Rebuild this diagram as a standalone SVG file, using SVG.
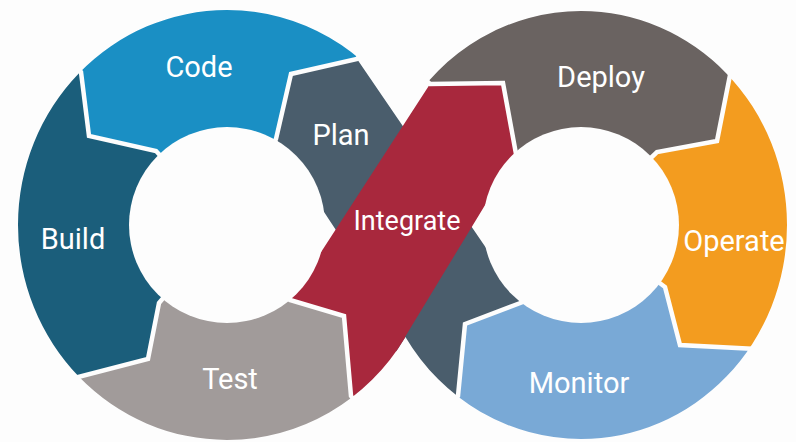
<svg xmlns="http://www.w3.org/2000/svg" width="796" height="442" viewBox="0 0 796 442">
<defs>
<clipPath id="ring"><ellipse cx="227" cy="225" rx="209" ry="215"/><ellipse cx="581" cy="225" rx="206" ry="214"/></clipPath>
<style>
.lbl{font-family:Roboto,"Liberation Sans",sans-serif;font-size:29px;fill:#ffffff;text-anchor:middle}
.seg{clip-path:url(#ring)}
.gap{fill:none;stroke:#fdfdfd;stroke-width:4.5;stroke-linejoin:miter}
.hole{fill:#fdfdfd}
</style>
</defs>
<rect width="796" height="442" fill="#fdfdfd"/>
<g id="segments">
<g id="code"><path class="seg" fill="#1a8fc4" d="M227,225 L156,151 L89,136 L81,72 L61,50 L227,-60 L377,37 L357,59 L291,74 L276,139 Z"/><text class="lbl" x="199" y="77">Code</text></g>
<g id="build"><path class="seg" fill="#1b5e7b" d="M227,225 L159,303 L148,359 L78,377 L57,398 L-60,225 L61,50 L81,72 L89,136 L156,151 Z"/><text class="lbl" x="73" y="249">Build</text></g>
<g id="test"><path class="seg" fill="#a19b9a" d="M227,225 L290,300 L344,316 L351,396 L370,420 L227,520 L57,398 L78,377 L148,359 L159,303 Z"/><text class="lbl" x="230" y="389">Test</text></g>
<g id="plan"><path class="seg" fill="#4a5d6c" d="M276,139 L291,74 L357,59 L523,302 L465,324 L458,396 L440,420 L395,350 L405,335 Z"/><text class="lbl" x="341" y="145">Plan</text></g>
<g id="integrate"><path class="seg" fill="#a8283d" d="M290,300 L344,316 L351,396 L370,420 L420,400 L405,337 L516,154 L503,83 L430,84 Z"/><text class="lbl" x="407" y="230" style="font-size:27px">Integrate</text></g>
<g id="deploy"><path class="seg" fill="#6a6361" d="M581,225 L516,154 L503,83 L430,84 L412,67 L581,-40 L760,40 L731,70 L717,141 L657,152 Z"/><text class="lbl" x="601" y="87">Deploy</text></g>
<g id="operate"><path class="seg" fill="#f39c1f" d="M581,225 L657,152 L717,141 L731,70 L760,40 L860,225 L789,372 L756,349 L680,345 L665,287 Z"/><text class="lbl" x="734" y="251">Operate</text></g>
<g id="monitor"><path class="seg" fill="#79a9d6" d="M581,225 L665,287 L680,345 L756,349 L789,372 L581,520 L440,420 L458,396 L465,324 L523,302 Z"/><text class="lbl" x="579" y="393">Monitor</text></g>
</g>
<g id="holes"><circle class="hole" cx="227" cy="225" r="98"/><circle class="hole" cx="581" cy="225" r="98"/></g>
<g id="gaps">
<path class="gap" d="M173,169 L156,151 L89,136 L81,72 L64,54"/>
<path class="gap" d="M175,284 L159,303 L148,359 L78,377 L60,395"/>
<path class="gap" d="M274,281 L290,300 L344,316 L351,396 L366,416"/>
<path class="gap" d="M264,161 L276,139 L291,74 L357,59 L373,39"/>
<path class="gap" d="M533,172 L516,154 L503,83 L430,84 L412,67"/>
<path class="gap" d="M635,173 L657,152 L717,141 L731,70 L748,52"/>
<path class="gap" d="M641,269 L665,287 L680,345 L756,349 L776,363"/>
<path class="gap" d="M538,282 L523,302 L465,324 L458,396 L443,416"/>
</g>
</svg>
